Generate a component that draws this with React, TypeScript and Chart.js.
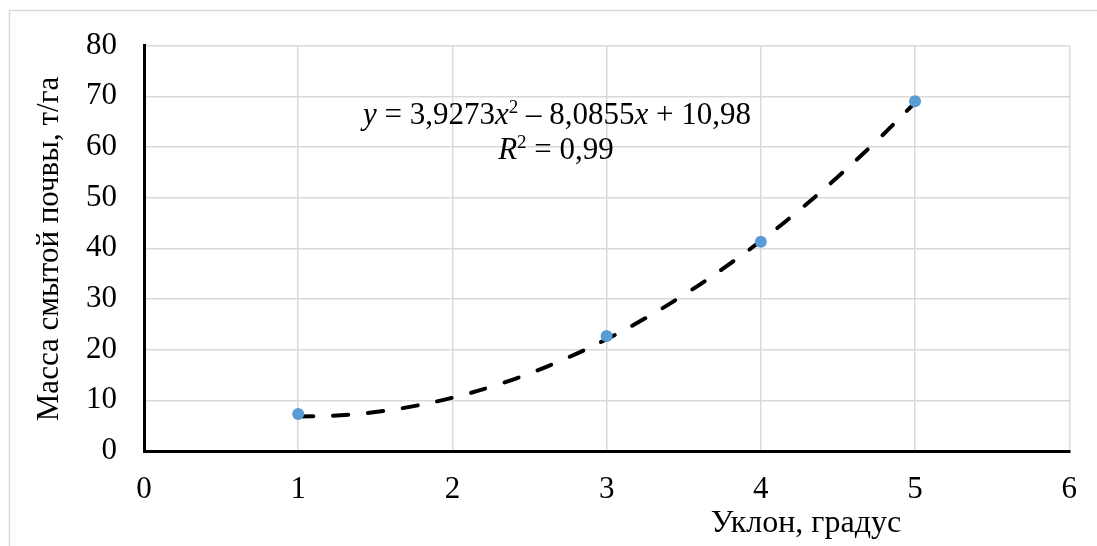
import React, { useEffect, useRef } from "react";
import { Chart, registerables } from "chart.js";

Chart.register(...registerables);

const slopeDeg = [1, 3, 4, 5];
const soilLoss = [7.3, 22.7, 41.3, 69.0];
const trendX = [1, 1.25, 1.5, 1.75, 2, 2.25, 2.5, 2.75, 3, 3.25, 3.5, 3.75, 4, 4.25, 4.5, 4.75, 5];
const trendY = [6.82, 7.01, 7.69, 8.86, 10.52, 12.67, 15.31, 18.45, 22.07, 26.18, 30.79, 35.89, 41.47, 47.55, 54.12, 61.18, 68.73];
const xTitle = "Уклон, градус";
const yTitle = "Масса смытой почвы, т/га";

const FONT = "'Liberation Serif', 'Times New Roman', serif";

const overlay = {
  id: "overlay",
  afterDraw(chart: any) {
    const ctx = chart.ctx;
    ctx.save();
    // outer frame
    ctx.strokeStyle = "#d9d9d9";
    ctx.lineWidth = 1.5;
    ctx.beginPath();
    ctx.moveTo(9.5, 546);
    ctx.lineTo(9.5, 10.5);
    ctx.lineTo(1097, 10.5);
    ctx.stroke();

    ctx.fillStyle = "#000";
    // x title
    ctx.font = `32px ${FONT}`;
    ctx.textAlign = "center";
    ctx.textBaseline = "alphabetic";
    ctx.fillText(xTitle, 806, 532);
    // y title
    ctx.font = `31px ${FONT}`;
    ctx.save();
    ctx.translate(58, 249);
    ctx.rotate(-Math.PI / 2);
    ctx.fillText(yTitle, 0, 0);
    ctx.restore();

    // equation
    const parts1: [string, boolean, boolean][] = [
      ["y", true, false], [" = 3,9273", false, false], ["x", true, false], ["2", false, true],
      [" – 8,0855", false, false], ["x", true, false], [" + 10,98", false, false],
    ];
    const parts2: [string, boolean, boolean][] = [
      ["R", true, false], ["2", false, true], [" = 0,99", false, false],
    ];
    const drawLine = (parts: [string, boolean, boolean][], cx: number, by: number) => {
      const fontFor = (it: boolean, sup: boolean) =>
        `${it ? "italic " : ""}${sup ? 19 : 31}px ${FONT}`;
      let w = 0;
      for (const [t, it, sup] of parts) {
        ctx.font = fontFor(it, sup);
        w += ctx.measureText(t).width;
      }
      let x = cx - w / 2;
      ctx.textAlign = "left";
      ctx.textBaseline = "alphabetic";
      for (const [t, it, sup] of parts) {
        ctx.font = fontFor(it, sup);
        ctx.fillText(t, x, sup ? by - 11 : by);
        x += ctx.measureText(t).width;
      }
    };
    drawLine(parts1, 557, 124);
    drawLine(parts2, 556, 159);
    ctx.restore();
  },
};

export default function App() {
  const ref = useRef<HTMLCanvasElement>(null);
  useEffect(() => {
    const ctx = ref.current!.getContext("2d")!;
    const chart = new Chart(ctx, {
      type: "scatter",
      data: {
        datasets: [
          {
            label: "trend",
            data: trendX.map((x, i) => ({ x, y: trendY[i] })),
            showLine: true,
            borderColor: "#000",
            borderWidth: 4,
            borderDash: [15, 20],
            borderCapStyle: "round",
            pointRadius: 0,
            tension: 0.4,
            order: 2,
          } as any,
          {
            label: "data",
            data: slopeDeg.map((x, i) => ({ x, y: soilLoss[i] })),
            backgroundColor: "#5b9bd5",
            borderColor: "#5b9bd5",
            pointRadius: 6,
            pointBorderWidth: 0,
            order: 1,
          },
        ],
      },
      options: {
        animation: false,
        responsive: false,
        maintainAspectRatio: false,
        layout: { padding: { top: 37, right: 20, left: 0, bottom: 0 } },
        plugins: { legend: { display: false }, tooltip: { enabled: false } },
        scales: {
          x: {
            type: "linear",
            min: 0,
            max: 6,
            ticks: { stepSize: 1, color: "#000", font: { family: FONT, size: 31 }, padding: 20 },
            grid: { color: "#d9d9d9", lineWidth: 1.5, drawTicks: false },
            border: { color: "#000", width: 3 },
            afterFit: (s: any) => { s.height = 95; },
          },
          y: {
            min: 0,
            max: 80,
            ticks: { stepSize: 10, color: "#000", font: { family: FONT, size: 31 }, padding: 27 },
            grid: { color: "#d9d9d9", lineWidth: 1.5, drawTicks: false },
            border: { color: "#000", width: 3 },
            afterFit: (s: any) => { s.width = 144; },
          },
        },
      },
      plugins: [overlay],
    });
    return () => chart.destroy();
  }, []);
  return (
    <div style={{ position: "fixed", left: 0, top: 0, width: 1097, height: 546, background: "#fff" }}>
      <canvas ref={ref} width={1097} height={546} style={{ display: "block" }} />
    </div>
  );
}
